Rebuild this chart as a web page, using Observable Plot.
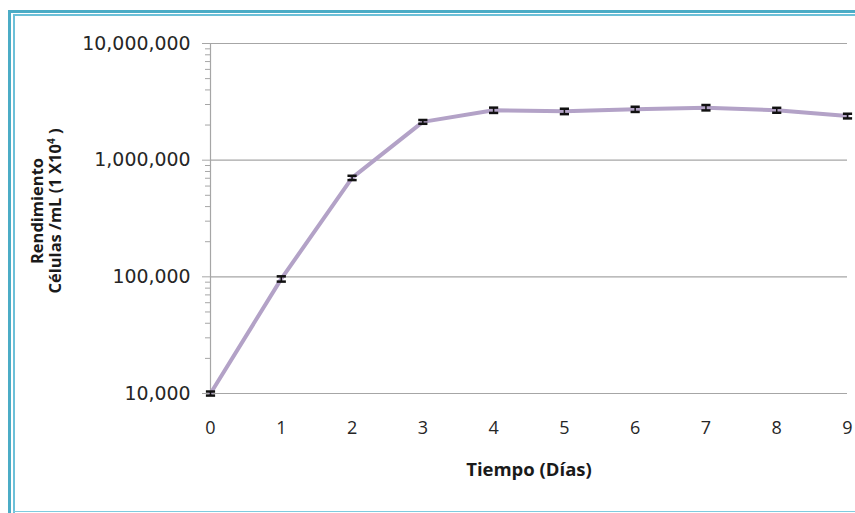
<!DOCTYPE html>
<html>
<head>
<meta charset="utf-8">
<script src="https://cdn.jsdelivr.net/npm/d3@7"></script>
<script src="https://cdn.jsdelivr.net/npm/@observablehq/plot@0.6"></script>
<style>
  html, body { margin: 0; padding: 0; background: #fff; }
  #wrap { position: relative; width: 855px; height: 513px; overflow: hidden; }
  .b { position: absolute; }
  #ytitle { position: absolute; left: 46px; top: 211px; transform: translate(-50%, -50%) rotate(-90deg);
    font-family: "Open Sans", Lato, sans-serif; font-weight: bold; font-size: 16.5px; color: #1a1a1a;
    text-align: center; line-height: 18px; white-space: nowrap; }
  #ytitle sup { font-size: 10px; line-height: 0; }
  #xtitle { position: absolute; left: 529px; top: 468px; transform: translate(-50%, -50%);
    font-family: "Open Sans", Lato, sans-serif; font-weight: bold; font-size: 18.5px; color: #1a1a1a; white-space: nowrap; }
</style>
</head>
<body>
<div id="wrap">
  <div id="chart"></div>
  <div class="b" style="left:8px;top:10px;width:3px;height:503px;background:#4BACC6"></div>
  <div class="b" style="left:12.5px;top:14px;width:2px;height:499px;background:#6CC0D8"></div>
  <div class="b" style="left:8px;top:10px;width:847px;height:3px;background:#4BACC6"></div>
  <div class="b" style="left:12.5px;top:14px;width:843px;height:2px;background:#6CC0D8"></div>
  <div class="b" style="left:12.5px;top:510.5px;width:843px;height:1.5px;background:#7FCBDF"></div>
  <div id="ytitle">Rendimiento<br>Células /mL (1 X10<sup>4</sup> )</div>
  <div id="xtitle">Tiempo (Días)</div>
</div>
<script>
const days = [0, 1, 2, 3, 4, 5, 6, 7, 8, 9];
const cells = [10000, 96000, 705000, 2130000, 2680000, 2620000, 2730000, 2820000, 2680000, 2390000];
const errors = [400, 5000, 30000, 80000, 140000, 140000, 140000, 150000, 130000, 110000];
const yMajorTicks = [10000, 100000, 1000000, 10000000];
const yMinorTicks = [2,3,4,5,6,7,8,9].flatMap(m => [1e4, 1e5, 1e6].map(d => m * d));
const xTicks = days;

const data = days.map((d, i) => ({day: d, value: cells[i], lo: cells[i] - errors[i], hi: cells[i] + errors[i]}));
const capHalf = 0.065;

const plot = Plot.plot({
  width: 855,
  height: 513,
  marginLeft: 210,
  marginRight: 8,
  marginTop: 43,
  marginBottom: 120,
  style: {background: "transparent", color: "#262626"},
  x: {domain: [0, 9], label: null},
  y: {type: "log", domain: [1e4, 1e7], label: null},
  marks: [
    Plot.gridY(yMajorTicks, {stroke: "#a6a6a6", strokeOpacity: 1, strokeWidth: 1.2}),
    Plot.ruleX([0], {stroke: "#a6a6a6", strokeWidth: 1.2}),
    Plot.axisY(yMinorTicks, {tickSize: 5, stroke: "#a6a6a6", tickFormat: () => "", label: null}),
    Plot.axisY(yMajorTicks, {tickSize: 8, stroke: "#a6a6a6", tickPadding: 12, tickFormat: d3.format(","),
      fontSize: 18.9, fontFamily: "DejaVu Sans", fill: "#262626", label: null}),
    Plot.axisX(xTicks, {tickSize: 0, tickPadding: 28, fontSize: 18, fontFamily: "Open Sans", fill: "#262626", label: null}),
    Plot.line(data, {x: "day", y: "value", stroke: "#B3A2C7", strokeWidth: 4}),
    Plot.link(data, {x1: "day", x2: "day", y1: "lo", y2: "hi", stroke: "#111", strokeWidth: 1.5}),
    Plot.link(data, {x1: d => d.day - capHalf, x2: d => d.day + capHalf, y1: "hi", y2: "hi", stroke: "#111", strokeWidth: 2.5}),
    Plot.link(data, {x1: d => d.day - capHalf, x2: d => d.day + capHalf, y1: "lo", y2: "lo", stroke: "#111", strokeWidth: 2.5})
  ]
});
document.getElementById("chart").appendChild(plot);
</script>
</body>
</html>
